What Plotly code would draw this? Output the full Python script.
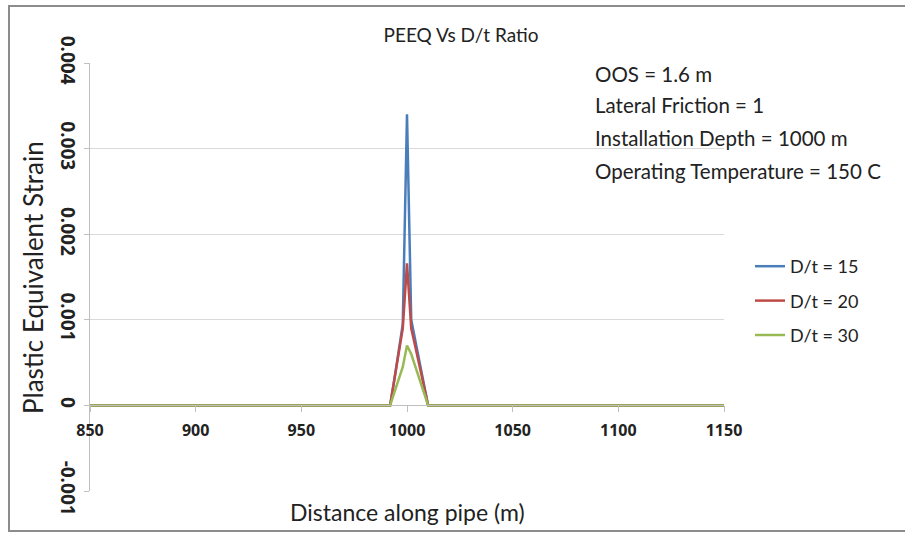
import plotly.graph_objects as go

# Data
distance = [850, 900, 950, 990, 992, 994, 996, 998, 1000, 1002, 1004, 1006, 1008, 1010, 1012, 1050, 1100, 1150]
peeq_dt15 = [0, 0, 0, 0, 0, 0.0003, 0.0006, 0.00095, 0.0034, 0.0010, 0.00075, 0.0005, 0.00025, 0, 0, 0, 0, 0]
peeq_dt20 = [0, 0, 0, 0, 0, 0.0003, 0.0006, 0.0009, 0.00166, 0.0009, 0.00068, 0.00045, 0.00022, 0, 0, 0, 0, 0]
peeq_dt30 = [0, 0, 0, 0, 0, 0.00015, 0.0003, 0.00045, 0.0007, 0.0006, 0.00045, 0.0003, 0.00015, 0, 0, 0, 0, 0]

series_names = ["D/t = 15", "D/t = 20", "D/t = 30"]
series_values = [peeq_dt15, peeq_dt20, peeq_dt30]
series_colors = ["#4A7EBB", "#BE4B48", "#98B954"]

x_ticks = [850, 900, 950, 1000, 1050, 1100, 1150]
x_tick_labels = ["850", "900", "950", "1000", "1050", "1100", "1150"]
y_ticks = [-0.001, 0, 0.001, 0.002, 0.003, 0.004]
y_tick_labels = ["-0.001", "0", "0.001", "0.002", "0.003", "0.004"]

notes = ["OOS = 1.6 m", "Lateral Friction = 1", "Installation Depth = 1000 m",
         "Operating Temperature = 150 C"]

FONT = "Lato"
TICKFONT = "Open Sans"

fig = go.Figure()
for name, vals, col in zip(series_names, series_values, series_colors):
    fig.add_trace(go.Scatter(x=distance, y=vals, mode="lines", name=name,
                             legendgroup=name,
                             line=dict(color=col, width=2.5)))

W, H = 905, 535
L, R, T, B = 90, 181, 63, 44
pw, ph = W - L - R, H - T - B

def px_x(p):
    return (p - L) / pw

def px_y(p):
    return (H - B - p) / ph

fig.update_layout(
    width=W, height=H,
    margin=dict(l=L, r=R, t=T, b=B),
    paper_bgcolor="white", plot_bgcolor="white",
    font=dict(family=FONT, color="#222"),
    title=dict(text="PEEQ Vs D/t Ratio", x=461 / W, xanchor="center",
               y=1 - 35 / H, yanchor="middle",
               font=dict(size=19, family=FONT, color="#222")),
    showlegend=True,
    legend=dict(x=px_x(750), y=px_y(248), xanchor="left", yanchor="top",
                font=dict(size=18, family=FONT, color="#222"),
                itemwidth=30, tracegroupgap=8, bgcolor="rgba(0,0,0,0)"),
    xaxis=dict(range=[850, 1150], tickvals=x_ticks, ticktext=x_tick_labels,
               showgrid=False, anchor="free", position=0.2,
               showline=True, linecolor="#bfbfbf", linewidth=1,
               ticks="outside", ticklen=6, tickcolor="#bfbfbf",
               ticklabelstandoff=4,
               tickfont=dict(size=16, family=TICKFONT, color="#222", weight=700),
               zeroline=False),
    yaxis=dict(range=[-0.001, 0.004], tickvals=y_ticks, ticktext=y_tick_labels,
               tickangle=90, showgrid=True, gridcolor="#d9d9d9", gridwidth=1,
               showline=True, linecolor="#bfbfbf", linewidth=1,
               ticks="outside", ticklen=5, tickcolor="#bfbfbf",
               tickfont=dict(size=19, family=TICKFONT, color="#222", weight=700),
               zeroline=False),
)

# Excel-style chart border
fig.add_shape(type="rect", xref="paper", yref="paper",
              x0=px_x(9), x1=px_x(915), y0=px_y(531), y1=px_y(6),
              line=dict(color="#8c8c8c", width=2), fillcolor="rgba(0,0,0,0)",
              layer="below")

# Axis titles
fig.add_annotation(text="Distance along pipe (m)", xref="paper", yref="paper",
                   x=0.5, y=px_y(512), xanchor="center", yanchor="middle",
                   showarrow=False, font=dict(size=23, family=FONT, color="#222"))
fig.add_annotation(text="Plastic Equivalent Strain", xref="paper", yref="paper",
                   x=px_x(33), y=px_y(278), xanchor="center", yanchor="middle",
                   textangle=-90, showarrow=False,
                   font=dict(size=26, family=FONT, color="#222"))

# Notes
note_y = [74, 105, 138, 171]
for t, yy in zip(notes, note_y):
    fig.add_annotation(text=t, xref="paper", yref="paper", x=px_x(593), y=px_y(yy),
                       xanchor="left", yanchor="middle", showarrow=False,
                       font=dict(size=20.5, family=FONT, color="#222"))

fig.write_html("out.html")
